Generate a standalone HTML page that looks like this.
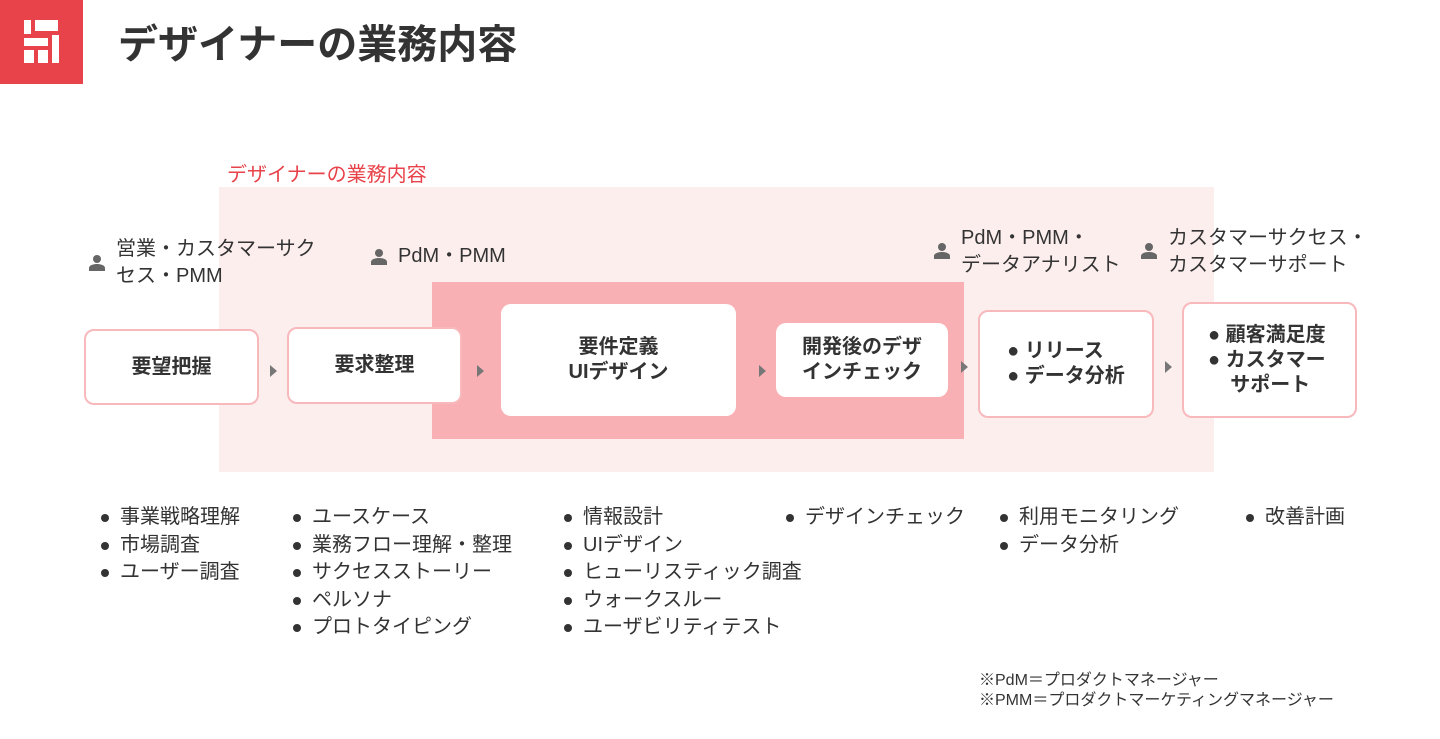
<!DOCTYPE html>
<html><head><meta charset="utf-8"><style>
body{margin:0;width:1440px;height:739px;background:#fff;position:relative;overflow:hidden;font-family:"Liberation Sans","Noto Sans CJK JP",sans-serif;color:#333}
.a{position:absolute}
.box{position:absolute;background:#fff;border-radius:10px;display:flex;align-items:center;justify-content:center;text-align:center;font-weight:bold;font-size:20px;line-height:25px;color:#333;box-sizing:border-box}
.bd{border:2px solid #f8b9bc}
.tri{position:absolute;width:0;height:0;border-top:6px solid transparent;border-bottom:6px solid transparent;border-left:7px solid #777}
.lst{position:absolute;font-size:20px;color:#333;white-space:nowrap}
.lst div{height:27.5px;line-height:27.5px;position:relative;padding-left:19px}
.lst div:before{content:"";position:absolute;left:0;top:10px;width:8px;height:8px;border-radius:50%;background:#333}
.p{position:absolute;font-size:20px;line-height:23px;color:#333;white-space:nowrap}
.ic{position:absolute;width:18px;height:18px}
</style></head><body>
<div class="a" style="left:0;top:0;width:83px;height:84px;background:#e8434a"></div>
<div class="a" style="left:24px;top:20px;width:7px;height:14px;background:#fff"></div>
<div class="a" style="left:35px;top:20px;width:23px;height:11px;background:#fff"></div>
<div class="a" style="left:24px;top:38px;width:24px;height:8px;background:#fff"></div>
<div class="a" style="left:52px;top:35px;width:7px;height:28px;background:#fff"></div>
<div class="a" style="left:24px;top:50px;width:10px;height:13px;background:#fff"></div>
<div class="a" style="left:38px;top:50px;width:10px;height:13px;background:#fff"></div>
<div class="a" style="left:118px;top:20px;font-size:40px;font-weight:bold;line-height:50px;color:#333">デザイナーの業務内容</div>
<div class="a" style="left:227px;top:158px;font-size:20px;color:#e8434a">デザイナーの業務内容</div>
<div class="a" style="left:219px;top:187px;width:995px;height:285px;background:#fdeeee"></div>
<div class="a" style="left:432px;top:282px;width:532px;height:157px;background:#f9b0b4"></div>

<svg class="ic" style="left:88px;top:254px" viewBox="0 0 18 18"><circle cx="9" cy="5" r="4" fill="#666"/><path d="M1 17v-3c0-3 5-4 8-4s8 1 8 4v3z" fill="#666"/></svg>
<div class="p" style="left:116px;top:236px;line-height:27px">営業・カスタマーサク<br>セス・PMM</div>
<svg class="ic" style="left:370px;top:248px" viewBox="0 0 18 18"><circle cx="9" cy="5" r="4" fill="#666"/><path d="M1 17v-3c0-3 5-4 8-4s8 1 8 4v3z" fill="#666"/></svg>
<div class="p" style="left:398px;top:245px">PdM・PMM</div>
<svg class="ic" style="left:933px;top:242px" viewBox="0 0 18 18"><circle cx="9" cy="5" r="4" fill="#666"/><path d="M1 17v-3c0-3 5-4 8-4s8 1 8 4v3z" fill="#666"/></svg>
<div class="p" style="left:961px;top:225px;line-height:27px">PdM・PMM・<br>データアナリスト</div>
<svg class="ic" style="left:1140px;top:242px" viewBox="0 0 18 18"><circle cx="9" cy="5" r="4" fill="#666"/><path d="M1 17v-3c0-3 5-4 8-4s8 1 8 4v3z" fill="#666"/></svg>
<div class="p" style="left:1168px;top:225px;line-height:27px">カスタマーサクセス・<br>カスタマーサポート</div>

<div class="box bd" style="left:84px;top:329px;width:175px;height:76px">要望把握</div>
<div class="box bd" style="left:287px;top:327px;width:175px;height:77px">要求整理</div>
<div class="box" style="left:501px;top:304px;width:235px;height:112px">要件定義<br>UIデザイン</div>
<div class="box" style="left:776px;top:323px;width:172px;height:74px">開発後のデザ<br>インチェック</div>
<div class="box bd" style="left:978px;top:310px;width:176px;height:108px;text-align:left">● リリース<br>● データ分析</div>
<div class="box bd" style="left:1182px;top:302px;width:175px;height:116px;text-align:left;justify-content:flex-start;padding-left:24px">● 顧客満足度<br>● カスタマー<br>&nbsp;&nbsp;&nbsp;&nbsp;サポート</div>

<div class="tri" style="left:270px;top:365px"></div>
<div class="tri" style="left:477px;top:365px"></div>
<div class="tri" style="left:759px;top:365px"></div>
<div class="tri" style="left:961px;top:361px"></div>
<div class="tri" style="left:1165px;top:361px"></div>

<div class="lst" style="left:101px;top:504px"><div>事業戦略理解</div><div>市場調査</div><div>ユーザー調査</div></div>
<div class="lst" style="left:293px;top:504px"><div>ユースケース</div><div>業務フロー理解・整理</div><div>サクセスストーリー</div><div>ペルソナ</div><div>プロトタイピング</div></div>
<div class="lst" style="left:564px;top:504px"><div>情報設計</div><div>UIデザイン</div><div>ヒューリスティック調査</div><div>ウォークスルー</div><div>ユーザビリティテスト</div></div>
<div class="lst" style="left:786px;top:504px"><div>デザインチェック</div></div>
<div class="lst" style="left:1000px;top:504px"><div>利用モニタリング</div><div>データ分析</div></div>
<div class="lst" style="left:1246px;top:504px"><div>改善計画</div></div>

<div class="a" style="left:979px;top:671px;font-size:16px;line-height:20px;color:#333">※PdM＝プロダクトマネージャー<br>※PMM＝プロダクトマーケティングマネージャー</div>
</body></html>
